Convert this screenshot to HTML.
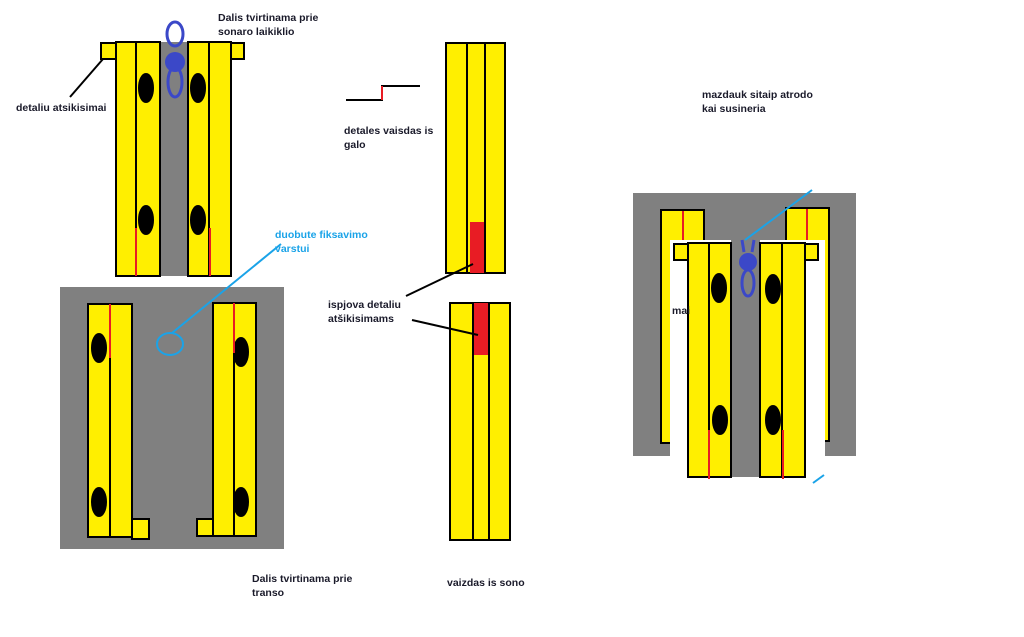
<!DOCTYPE html>
<html><head><meta charset="utf-8"><style>
body{margin:0;width:1024px;height:637px;background:#fff;overflow:hidden;position:relative;font-family:"Liberation Sans",sans-serif}
.t{position:absolute;font-size:10.5px;font-weight:bold;color:#1a1a2a;line-height:14px;white-space:nowrap}
</style></head><body>
<svg width="1024" height="637" style="position:absolute;left:0;top:0" stroke-width="2">
<g stroke="#000">
<!-- top-left -->
<rect x="160" y="42" width="28" height="234" fill="#808080" stroke="none"/>
<rect x="101" y="43" width="15" height="16" fill="#ffef00"/>
<rect x="231" y="43" width="13" height="16" fill="#ffef00"/>
<rect x="116" y="42" width="44" height="234" fill="#ffef00"/>
<rect x="188" y="42" width="43" height="234" fill="#ffef00"/>
<line x1="136" y1="42" x2="136" y2="276"/><line x1="209" y1="42" x2="209" y2="276"/>
<ellipse cx="146" cy="88" rx="7" ry="14" fill="#000"/><ellipse cx="146" cy="220" rx="7" ry="14" fill="#000"/>
<ellipse cx="198" cy="88" rx="7" ry="14" fill="#000"/><ellipse cx="198" cy="220" rx="7" ry="14" fill="#000"/>
<line x1="103" y1="59" x2="70" y2="97"/>
<!-- bottom-left -->
<rect x="60" y="287" width="224" height="262" fill="#808080" stroke="none"/>
<rect x="88" y="304" width="44" height="233" fill="#ffef00"/>
<rect x="132" y="519" width="17" height="20" fill="#ffef00"/>
<rect x="213" y="303" width="43" height="233" fill="#ffef00"/>
<rect x="197" y="519" width="16" height="17" fill="#ffef00"/>
<line x1="110" y1="304" x2="110" y2="537"/><line x1="234" y1="303" x2="234" y2="536"/>
<ellipse cx="99" cy="348" rx="7" ry="14" fill="#000"/><ellipse cx="99" cy="502" rx="7" ry="14" fill="#000"/>
<ellipse cx="241" cy="352" rx="7" ry="14" fill="#000"/><ellipse cx="241" cy="502" rx="7" ry="14" fill="#000"/>
<!-- middle -->
<rect x="446" y="43" width="59" height="230" fill="#ffef00"/>
<rect x="470" y="222" width="14" height="51" fill="#e81c24" stroke="none"/>
<line x1="467" y1="43" x2="467" y2="273"/><line x1="485" y1="43" x2="485" y2="273"/>
<rect x="450" y="303" width="60" height="237" fill="#ffef00"/>
<rect x="473" y="303" width="16" height="52" fill="#e81c24" stroke="none"/>
<line x1="473" y1="303" x2="473" y2="540"/><line x1="489" y1="303" x2="489" y2="540"/>
<line x1="406" y1="296" x2="473" y2="264"/><line x1="412" y1="320" x2="478" y2="335"/>
<polyline points="346,100 382,100 382,86 420,86" fill="none"/>
<!-- right -->
<rect x="633" y="193" width="223" height="263" fill="#808080" stroke="none"/>
<rect x="661" y="210" width="43" height="233" fill="#ffef00"/>
<rect x="786" y="208" width="43" height="233" fill="#ffef00"/>
<rect x="670" y="240" width="155" height="240" fill="#fff" stroke="none"/>
<rect x="731" y="240" width="29" height="237" fill="#808080" stroke="none"/>
<rect x="674" y="244" width="14" height="16" fill="#ffef00"/>
<rect x="805" y="244" width="13" height="16" fill="#ffef00"/>
<rect x="688" y="243" width="43" height="234" fill="#ffef00"/>
<rect x="760" y="243" width="45" height="234" fill="#ffef00"/>
<line x1="709" y1="243" x2="709" y2="477"/><line x1="782" y1="243" x2="782" y2="477"/>
<ellipse cx="719" cy="288" rx="7" ry="14" fill="#000"/><ellipse cx="720" cy="420" rx="7" ry="14" fill="#000"/>
<ellipse cx="773" cy="289" rx="7" ry="14" fill="#000"/><ellipse cx="773" cy="420" rx="7" ry="14" fill="#000"/>
</g>
<g stroke="#e81c24">
<line x1="136" y1="228" x2="136" y2="276"/><line x1="210" y1="228" x2="210" y2="276"/>
<line x1="110" y1="304" x2="110" y2="358"/><line x1="234" y1="303" x2="234" y2="353"/>
<line x1="382" y1="86" x2="382" y2="100"/>
<line x1="683" y1="211" x2="683" y2="240"/><line x1="807" y1="209" x2="807" y2="240"/>
<line x1="709" y1="430" x2="709" y2="479"/><line x1="783" y1="430" x2="783" y2="479"/>
</g>
<g stroke="#3b48c8" stroke-width="3" fill="none">
<ellipse cx="175" cy="34" rx="8" ry="12"/><ellipse cx="175" cy="82" rx="7" ry="15"/>
<circle cx="175" cy="62" r="10" fill="#3b48c8" stroke="none"/>
<ellipse cx="748" cy="283" rx="6" ry="13"/><line x1="742" y1="240" x2="744" y2="252"/><line x1="754" y1="240" x2="752" y2="252"/>
<circle cx="748" cy="262" r="9" fill="#3b48c8" stroke="none"/>
</g>
<g stroke="#1aa3e8" fill="none">
<ellipse cx="170" cy="344" rx="13" ry="11"/>
<line x1="172" y1="333" x2="281" y2="244"/>
<line x1="745" y1="240" x2="812" y2="190"/>
<line x1="813" y1="483" x2="824" y2="475"/>
</g>
</svg>
<div class="t" style="left:218px;top:11px">Dalis tvirtinama prie<br>sonaro laikiklio</div>
<div class="t" style="left:16px;top:101px">detaliu atsikisimai</div>
<div class="t" style="left:275px;top:228px;color:#1aa3e8">duobute fiksavimo<br>varstui</div>
<div class="t" style="left:344px;top:124px">detales vaisdas is<br>galo</div>
<div class="t" style="left:328px;top:298px">ispjova detaliu<br>atšikisimams</div>
<div class="t" style="left:252px;top:572px">Dalis tvirtinama prie<br>transo</div>
<div class="t" style="left:447px;top:576px">vaizdas is sono</div>
<div class="t" style="left:702px;top:88px">mazdauk sitaip atrodo<br>kai susineria</div>
<div class="t" style="left:672px;top:304px">mai</div>
</body></html>
